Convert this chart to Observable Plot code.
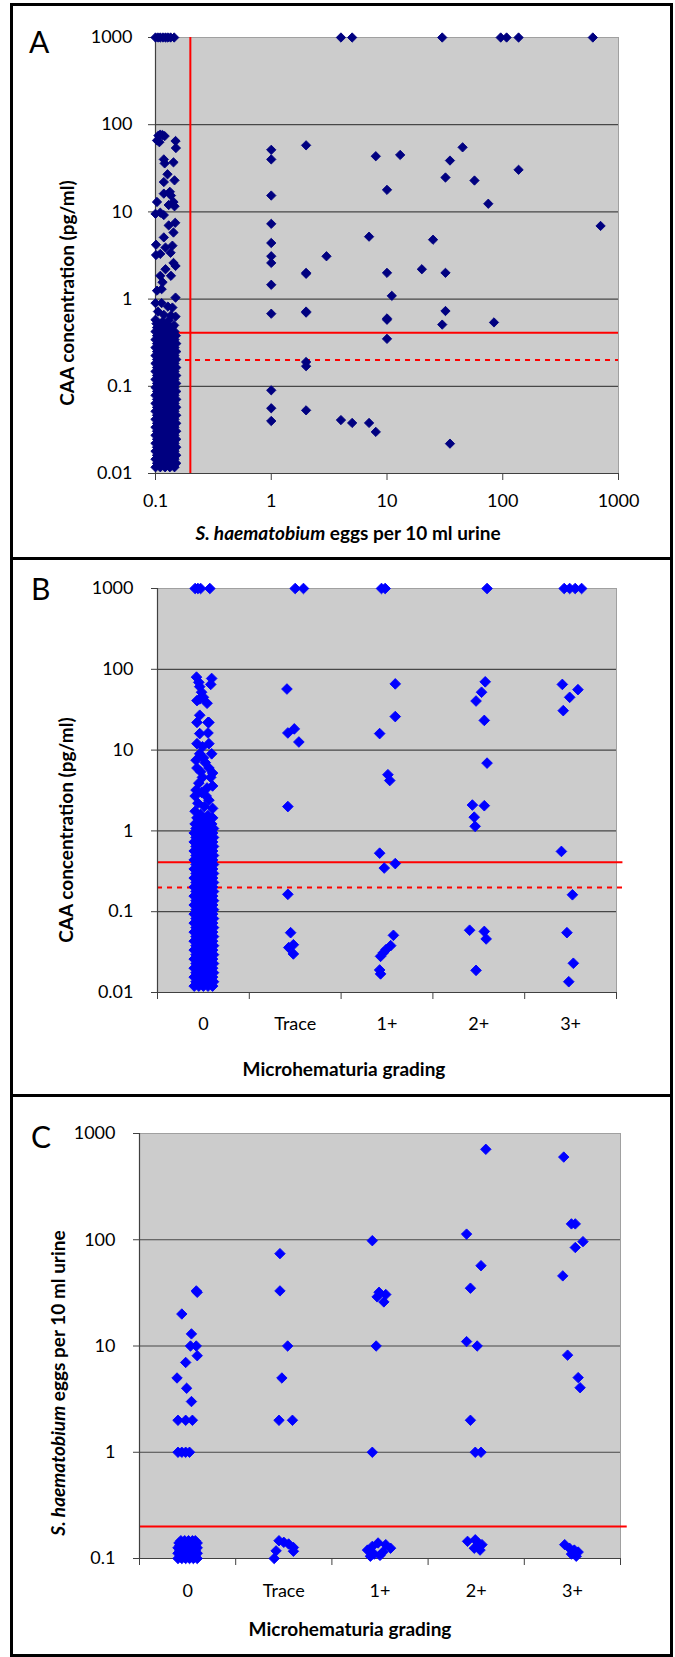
<!DOCTYPE html>
<html>
<head>
<meta charset="utf-8">
<script src="https://cdn.jsdelivr.net/npm/d3@7"></script>
<script src="https://cdn.jsdelivr.net/npm/@observablehq/plot@0.6"></script>
<style>
  body { margin: 0; background: #fff; }
  #page { position: relative; width: 675px; height: 1657px; overflow: hidden; font-family: Lato, "Open Sans", sans-serif; color: #000; }
  #page svg { position: absolute; left: 0; }
  .box { position: absolute; box-sizing: border-box; }
  .letter { position: absolute; font-size: 30px; line-height: 1; }
  .lbl { position: absolute; font-weight: bold; font-size: 19px; line-height: 1; white-space: nowrap; transform: translate(-50%, -50%); }
  .lbl.rot { transform: translate(-50%, -50%) rotate(-90deg); }
</style>
</head>
<body>
<div id="page"></div>
<script>
// ---------- tick values & labels ----------
const eggTicks = [0.1, 1, 10, 100, 1000];
const caaTicks = [0.01, 0.1, 1, 10, 100, 1000];
const caaGrid = [0.1, 1, 10, 100];
const eggTicksC = [0.1, 1, 10, 100, 1000];
const eggGridC = [1, 10, 100];
const gradeLabels = ["0", "Trace", "1+", "2+", "3+"];
const gradeCenters = [1, 2, 3, 4, 5];
const gradeBounds = [0.5, 1.5, 2.5, 3.5, 4.5, 5.5];
const gradeLineExtent = [0.5, 5.57];
const caaCutoff = 0.41;
const caaCutoffLow = 0.2;
const eggCutoff = 0.2;

// ---------- Panel A: [eggs per 10 ml, CAA pg/ml] ----------
const panelAPositive = [
  [4,1000],[5,1000],[30,1000],[96,1000],[108,1000],[137,1000],[600,1000],
  [1,51.5],[1,40],[1,15.4],[1,7.3],[1,4.4],[1,3.1],[1,2.6],[1,1.46],[1,0.68],[1,0.09],[1,0.056],[1,0.04],
  [2,58],[2,2.0],[2,1.95],[2,0.70],[2,0.72],[2,0.19],[2,0.17],[2,0.053],
  [3,3.1],[4,0.041],[5,0.038],[7,5.2],[7,0.038],[8,43.5],[8,0.030],
  [10,17.9],[10,2.0],[10,0.58],[10,0.6],[10,0.35],[11,1.09],[13,45],[20,2.2],[25,4.8],
  [30,0.51],[32,24.8],[32,2.0],[32,0.73],[35,38.8],[35,0.022],[45,55],[57,22.9],[75,12.4],
  [84,0.54],[137,30.4],[700,6.9]
];
// zero-egg group, plotted jittered between 0.1 and 0.15
const panelAZeroSparse = [
  [0.1,1000],[0.105,1000],[0.11,1000],[0.116,1000],[0.122,1000],[0.128,1000],[0.135,1000],[0.145,1000],
  [0.106,75],[0.11,77],[0.115,76],[0.12,74],[0.103,66],[0.108,63],[0.149,65],[0.15,54],
  [0.118,40],[0.12,36],[0.143,37],[0.127,27],[0.118,22],[0.146,23],[0.118,16.2],[0.133,17],
  [0.136,15.4],[0.103,13],[0.143,13],[0.146,11.6],[0.13,12],[0.1,9.5],[0.11,9.8],[0.118,9.2],
  [0.148,7.5],[0.13,7],[0.143,5.8],[0.118,5.1],[0.101,4.2],[0.122,3.9],[0.14,4.1],[0.101,3.2],
  [0.11,3.3],[0.135,3.4],[0.149,2.4],[0.143,2.6],[0.122,2.2],[0.11,1.85],[0.136,1.85],[0.115,1.56],
  [0.103,1.25],[0.113,1.3],[0.149,1.04],[0.1,0.9],[0.113,0.9],[0.128,0.82],[0.14,0.8],[0.105,0.72],
  [0.118,0.66],[0.136,0.65],[0.149,0.63],[0.1,0.58],[0.115,0.55],[0.13,0.57],[0.145,0.5]
];
// dense part of zero-egg group: [CAA, eggs jitter...]
const panelAZeroDense = [
  [0.0118,0.1,0.11,0.121,0.133,0.146],[0.0131,0.103,0.114,0.126,0.139,0.151],
  [0.0146,0.1,0.11,0.121,0.133,0.146],[0.0162,0.103,0.114,0.126,0.139,0.151],
  [0.018,0.1,0.11,0.121,0.133,0.146],[0.02,0.103,0.114,0.126,0.139,0.151],
  [0.0222,0.1,0.11,0.121,0.133,0.146],[0.0247,0.103,0.114,0.126,0.139,0.151],
  [0.0274,0.1,0.11,0.121,0.133,0.146],[0.0305,0.103,0.114,0.126,0.139,0.151],
  [0.0339,0.1,0.11,0.121,0.133,0.146],[0.0376,0.103,0.114,0.126,0.139,0.151],
  [0.0418,0.1,0.11,0.121,0.133,0.146],[0.0465,0.103,0.114,0.126,0.139,0.151],
  [0.0516,0.1,0.11,0.121,0.133,0.146],[0.0574,0.103,0.114,0.126,0.139,0.151],
  [0.0637,0.1,0.11,0.121,0.133,0.146],[0.0708,0.103,0.114,0.126,0.139,0.151],
  [0.0787,0.1,0.11,0.121,0.133,0.146],[0.0874,0.103,0.114,0.126,0.139,0.151],
  [0.0971,0.1,0.11,0.121,0.133,0.146],[0.108,0.103,0.114,0.126,0.139,0.151],
  [0.12,0.1,0.11,0.121,0.133,0.146],[0.133,0.103,0.114,0.126,0.139,0.151],
  [0.148,0.1,0.11,0.121,0.133,0.146],[0.164,0.103,0.114,0.126,0.139,0.151],
  [0.183,0.1,0.11,0.121,0.133,0.146],[0.203,0.103,0.114,0.126,0.139,0.151],
  [0.225,0.1,0.11,0.121,0.133,0.146],[0.25,0.103,0.114,0.126,0.139,0.151],
  [0.278,0.1,0.11,0.121,0.133,0.146],[0.309,0.103,0.114,0.126,0.139,0.151],
  [0.343,0.1,0.11,0.121,0.133,0.146],[0.381,0.103,0.114,0.126,0.139,0.15],
  [0.424,0.1,0.11,0.121,0.133,0.146],[0.471,0.103,0.114,0.126,0.139],
  [0.523,0.102,0.112,0.125]
];

// ---------- Panel B: [hematuria grade (jittered), CAA pg/ml] ----------
const panelBGrade0 = [
  [0.91,1000],[0.94,1000],[0.97,1000],[1.07,1000],
  [0.925,80],[0.95,69],[0.96,61],[1.09,77],[1.08,65],[0.98,52],[1.0,45],[0.93,41],[0.96,43],[1.04,38],
  [0.96,27],[1.05,22],[0.93,22],[1.06,22],[0.96,16],[1.05,16.3],[0.93,12],[1.06,12],[0.99,11],
  [0.96,9],[1.09,9],[1.0,8],[0.92,7.5],[1.02,7],[0.93,6],[1.06,6],[0.97,5.4],[1.1,5.2],[0.99,4.6],
  [1.08,4.6],[0.95,3.9],[1.1,3.6],[1.04,3.4],[0.92,3.2],[0.98,3.0],[0.91,2.7],[1.03,2.7],[1.06,2.4],
  [0.94,2.2],[1.01,2.0],[1.1,1.9],[0.91,1.75],[0.97,1.6],[1.05,1.55],[1.1,1.45],[0.93,1.45]
];
const panelBGrade0Dense = [
  [0.012,0.9,0.95,1.0,1.05,1.1],[0.0136,0.92,0.97,1.02,1.07,1.11],
  [0.0155,0.9,0.95,1.0,1.05,1.1],[0.0176,0.92,0.97,1.02,1.07,1.11],
  [0.02,0.9,0.95,1.0,1.05,1.1],[0.0228,0.92,0.97,1.02,1.07,1.11],
  [0.0259,0.9,0.95,1.0,1.05,1.1],[0.0294,0.92,0.97,1.02,1.07,1.11],
  [0.0335,0.9,0.95,1.0,1.05,1.1],[0.038,0.92,0.97,1.02,1.07,1.11],
  [0.0432,0.9,0.95,1.0,1.05,1.1],[0.0492,0.92,0.97,1.02,1.07,1.11],
  [0.0559,0.9,0.95,1.0,1.05,1.1],[0.0636,0.92,0.97,1.02,1.07,1.11],
  [0.0723,0.9,0.95,1.0,1.05,1.1],[0.0822,0.92,0.97,1.02,1.07,1.11],
  [0.0934,0.9,0.95,1.0,1.05,1.1],[0.106,0.92,0.97,1.02,1.07,1.11],
  [0.121,0.9,0.95,1.0,1.05,1.1],[0.137,0.92,0.97,1.02,1.07,1.11],
  [0.156,0.9,0.95,1.0,1.05,1.1],[0.178,0.92,0.97,1.02,1.07,1.11],
  [0.202,0.9,0.95,1.0,1.05,1.1],[0.23,0.92,0.97,1.02,1.07,1.11],
  [0.261,0.9,0.95,1.0,1.05,1.1],[0.297,0.92,0.97,1.02,1.07,1.11],
  [0.338,0.9,0.95,1.0,1.05,1.1],[0.384,0.92,0.97,1.02,1.07,1.11],
  [0.437,0.9,0.95,1.0,1.05,1.1],[0.496,0.92,0.97,1.02,1.07,1.11],
  [0.564,0.9,0.95,1.0,1.05,1.1],[0.642,0.92,0.97,1.02,1.07,1.11],
  [0.73,0.9,0.95,1.0,1.05,1.1],[0.83,0.92,0.97,1.02,1.07,1.11],
  [0.943,0.9,0.95,1.0,1.05,1.1],[1.07,0.92,0.97,1.02,1.07,1.11],
  [1.22,0.91,0.96,1.0,1.05,1.09],[1.38,0.95,1.0,1.05]
];
const panelBOther = [
  [2.0,1000],[2.09,1000],[1.91,57],[1.92,16.3],[1.99,18.3],[2.04,12.6],[1.92,2.0],[1.92,0.164],
  [1.95,0.055],[1.93,0.036],[1.98,0.039],[1.98,0.030],
  [2.94,1000],[2.98,1000],[3.09,66],[3.09,26],[2.92,16],[3.01,4.96],[3.03,4.2],[2.92,0.53],
  [2.97,0.347],[3.09,0.394],[3.07,0.051],[3.04,0.038],[2.99,0.034],[2.96,0.031],[2.93,0.028],
  [2.92,0.019],[2.93,0.017],
  [4.09,1000],[4.07,70],[4.03,52],[3.97,40.5],[4.06,23.3],[4.09,6.9],[3.93,2.09],[4.06,2.05],
  [3.95,1.48],[3.96,1.14],[3.90,0.059],[4.06,0.057],[4.08,0.046],[3.97,0.0188],
  [4.93,1000],[4.99,1000],[5.05,1000],[5.12,1000],[4.91,65],[4.99,45],[5.08,56],[4.92,30.8],
  [4.90,0.557],[5.02,0.162],[4.96,0.055],[5.03,0.023],[4.98,0.0136]
];

// ---------- Panel C: [hematuria grade (jittered), eggs per 10 ml] ----------
const panelCPoints = [
  [1.09,33],[1.1,32],[0.94,20],[1.04,13],[1.03,10],[1.09,10],[1.1,8.1],[0.98,7],[0.89,5],[0.99,4],
  [1.04,3],[0.9,2],[0.98,2],[1.05,2],[0.9,1],[0.94,1],[0.98,1],[1.02,1],
  [1.96,74],[1.96,33],[2.04,10],[1.98,5],[1.95,2],[2.09,2],[1.9,0.1],[1.92,0.118],[1.95,0.147],
  [2.0,0.142],[2.05,0.137],[2.1,0.127],[2.1,0.117],
  [2.92,98],[2.99,32],[3.06,30.5],[3.04,26],[2.97,29],[2.96,10],[2.92,1],[2.87,0.12],[2.92,0.13],
  [2.98,0.14],[3.06,0.135],[3.11,0.125],[2.94,0.11],[3.03,0.115],[2.9,0.105],[3.0,0.107],
  [4.1,710],[3.9,113],[4.05,57],[3.94,35],[3.9,11],[4.01,10],[3.94,2],[3.99,1],[4.05,1],
  [3.91,0.145],[3.99,0.15],[4.02,0.14],[4.06,0.135],[4.04,0.12],[3.98,0.125],
  [4.91,600],[4.99,141],[5.03,141],[5.11,96],[5.03,84.5],[4.9,45.7],[4.95,8.2],[5.06,5.04],[5.08,4.05],
  [4.92,0.135],[4.97,0.125],[5.02,0.12],[5.06,0.115],[4.99,0.11],[5.04,0.105]
];
const panelCGrade0Dense = [
  [0.1,0.9,0.94,0.98,1.02,1.06,1.1],[0.106,0.92,0.96,1.0,1.04,1.08],
  [0.112,0.9,0.94,0.98,1.02,1.06,1.1],[0.119,0.92,0.96,1.0,1.04,1.08],
  [0.126,0.9,0.94,0.98,1.02,1.06,1.1],[0.133,0.92,0.96,1.0,1.04,1.08],
  [0.14,0.91,0.95,0.99,1.03,1.07,1.1],[0.147,0.93,0.97,1.01,1.05,1.08]
];

// ---------- helpers ----------
const expand = rows => rows.flatMap(([v, ...xs]) => xs.map(x => [x, v]));
const fmt = d => String(d);
const axisColor = "#404040";
const gridColor = "#474747";
const plotBg = "#cccccc";
const navy = "#000080";
const blue = "#0000ff";
const baseStyle = { fontFamily: "Lato, 'Open Sans', sans-serif", fontSize: "18px", background: "transparent", overflow: "visible", color: "#000" };

const page = document.getElementById("page");
function place(svg, top) { svg.style.top = top + "px"; page.appendChild(svg); }

// ---------- Panel A ----------
const dataA = [...expand(panelAZeroDense), ...panelAZeroSparse, ...panelAPositive];
place(Plot.plot({
  width: 675, height: 520,
  marginTop: 37, marginBottom: 47, marginLeft: 155, marginRight: 57,
  style: baseStyle,
  x: { type: "log", domain: [0.1, 1000] },
  y: { type: "log", domain: [0.01, 1000] },
  marks: [
    Plot.frame({ fill: plotBg, stroke: "#a0a0a0" }),
    Plot.ruleY(caaGrid, { stroke: gridColor, strokeWidth: 1.2 }),
    Plot.ruleX([eggCutoff], { stroke: "#ff0000", strokeWidth: 2 }),
    Plot.ruleY([caaCutoff], { stroke: "#ff0000", strokeWidth: 2 }),
    Plot.ruleY([caaCutoffLow], { stroke: "#ff0000", strokeWidth: 2, strokeDasharray: "5,5" }),
    Plot.ruleX([0.1], { stroke: axisColor, strokeWidth: 1.2 }),
    Plot.ruleY([0.01], { stroke: axisColor, strokeWidth: 1.2 }),
    Plot.axisY({ ticks: caaTicks, tickFormat: fmt, tickSize: 7, tickPadding: 16, label: null, stroke: axisColor }),
    Plot.axisX({ ticks: eggTicks, tickFormat: fmt, tickSize: 7, tickPadding: 14, label: null, stroke: axisColor }),
    Plot.dot(dataA, { x: d => d[0], y: d => d[1], symbol: "diamond2", r: 4.2, fill: navy, stroke: navy, strokeWidth: 0.9 })
  ]
}), 0);

// ---------- Panel B ----------
const dataB = [...expand(panelBGrade0Dense), ...panelBGrade0, ...panelBOther];
place(Plot.plot({
  width: 675, height: 510,
  marginTop: 48, marginBottom: 58, marginLeft: 157, marginRight: 59,
  style: baseStyle,
  x: { type: "linear", domain: [0.5, 5.5] },
  y: { type: "log", domain: [0.01, 1000] },
  marks: [
    Plot.frame({ fill: plotBg, stroke: "#a0a0a0" }),
    Plot.ruleY(caaGrid, { stroke: gridColor, strokeWidth: 1.2 }),
    Plot.ruleY([caaCutoff], { x1: gradeLineExtent[0], x2: gradeLineExtent[1], stroke: "#ff0000", strokeWidth: 2 }),
    Plot.ruleY([caaCutoffLow], { x1: gradeLineExtent[0], x2: gradeLineExtent[1], stroke: "#ff0000", strokeWidth: 2, strokeDasharray: "5,5" }),
    Plot.ruleX([0.5], { stroke: axisColor, strokeWidth: 1.2 }),
    Plot.ruleY([0.01], { stroke: axisColor, strokeWidth: 1.2 }),
    Plot.axisY({ ticks: caaTicks, tickFormat: fmt, tickSize: 6, tickPadding: 18, label: null, stroke: axisColor }),
    Plot.axisX({ ticks: gradeBounds, tickFormat: () => "", tickSize: 7, label: null, stroke: axisColor }),
    Plot.axisX({ ticks: gradeCenters, tickFormat: d => gradeLabels[d - 1], tickSize: 0, tickPadding: 25, label: null }),
    Plot.dot(dataB, { x: d => d[0], y: d => d[1], symbol: "diamond2", r: 4.8, fill: blue, stroke: blue, strokeWidth: 0.9 })
  ]
}), 540);

// ---------- Panel C ----------
const dataC = [...expand(panelCGrade0Dense), ...panelCPoints];
place(Plot.plot({
  width: 675, height: 530,
  marginTop: 43, marginBottom: 62, marginLeft: 139, marginRight: 55,
  style: baseStyle,
  x: { type: "linear", domain: [0.5, 5.5] },
  y: { type: "log", domain: [0.1, 1000] },
  marks: [
    Plot.frame({ fill: plotBg, stroke: "#a0a0a0" }),
    Plot.ruleY(eggGridC, { stroke: gridColor, strokeWidth: 1.2 }),
    Plot.ruleY([eggCutoff], { x1: gradeLineExtent[0], x2: gradeLineExtent[1], stroke: "#ff0000", strokeWidth: 2 }),
    Plot.ruleX([0.5], { stroke: axisColor, strokeWidth: 1.2 }),
    Plot.ruleY([0.1], { stroke: axisColor, strokeWidth: 1.2 }),
    Plot.axisY({ ticks: eggTicksC, tickFormat: fmt, tickSize: 6, tickPadding: 18, label: null, stroke: axisColor }),
    Plot.axisX({ ticks: gradeBounds, tickFormat: () => "", tickSize: 7, label: null, stroke: axisColor }),
    Plot.axisX({ ticks: gradeCenters, tickFormat: d => gradeLabels[d - 1], tickSize: 0, tickPadding: 26, label: null }),
    Plot.dot(dataC, { x: d => d[0], y: d => d[1], symbol: "diamond2", r: 4.7, fill: blue, stroke: blue, strokeWidth: 0.9 })
  ]
}), 1090);

// ---------- frames, panel letters, axis titles ----------
function addDiv(cls, styleText, html) {
  const d = document.createElement("div");
  d.className = cls; d.style.cssText = styleText; d.innerHTML = html || "";
  page.appendChild(d); return d;
}
addDiv("box", "left:10px;top:3px;width:663px;height:1654px;border:3px solid #000;");
addDiv("box", "left:10px;top:557px;width:663px;height:3px;background:#000;");
addDiv("box", "left:10px;top:1094px;width:663px;height:3px;background:#000;");
addDiv("letter", "left:29px;top:26px;", "A");
addDiv("letter", "left:31px;top:573px;", "B");
addDiv("letter", "left:31px;top:1121px;", "C");
addDiv("lbl", "left:348px;top:532px;", "<i>S. haematobium</i> eggs per 10 ml urine");
addDiv("lbl rot", "left:66px;top:293px;", "CAA concentration (pg/ml)");
addDiv("lbl", "left:344px;top:1068px;", "Microhematuria grading");
addDiv("lbl rot", "left:65px;top:830px;", "CAA concentration (pg/ml)");
addDiv("lbl", "left:350px;top:1628px;", "Microhematuria grading");
addDiv("lbl rot", "left:57px;top:1383px;", "<i>S. haematobium</i> eggs per 10 ml urine");
</script>
</body>
</html>
